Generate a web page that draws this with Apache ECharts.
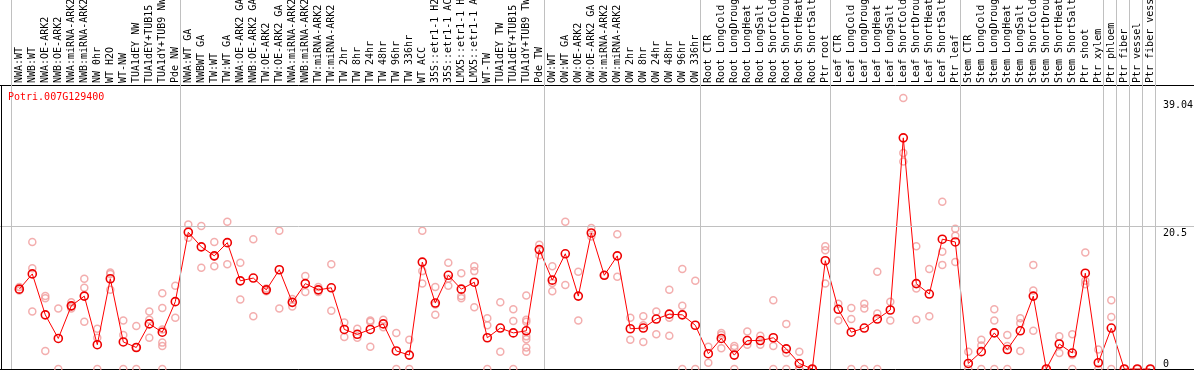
<!DOCTYPE html>
<html>
<head>
<meta charset="utf-8">
<script src="https://cdn.jsdelivr.net/npm/echarts@6/dist/echarts.min.js"></script>
<style>
html,body{margin:0;padding:0;background:#fff;}
#chart{width:1194px;height:370px;}
</style>
</head>
<body>
<div id="chart"></div>
<script>
// ---- data ----
const titleText = 'Potri.007G129400';
const categories = [
  'NWA:WT','NWB:WT','NWA:OE-ARK2','NWB:OE-ARK2','NWA:miRNA-ARK2','NWB:miRNA-ARK2','NW 0hr','WT H2O','WT-NW','TUA1dEY NW','TUA1dEY+TUB15 NW','TUA1dY+TUB9 NW','Pde NW',
  'NWA:WT GA','NWBWT GA','TW:WT','TW:WT GA','NWA:OE-ARK2 GA','NWB:OE-ARK2 GA','TW:OE-ARK2','TW:OE-ARK2 GA','NWA:miRNA-ARK2 GA','NWB:miRNA-ARK2 GA','TW:miRNA-ARK2','TW:miRNA-ARK2 GA','TW 2hr','TW 8hr','TW 24hr','TW 48hr','TW 96hr','TW 336hr','WT ACC','35S::etr1-1 H2O','35S::etr1-1 ACC','LMX5::etr1-1 H2O','LMX5::etr1-1 ACC','WT-TW','TUA1dEY TW','TUA1dEY+TUB15 TW','TUA1dY+TUB9 TW','Pde TW',
  'OW:WT','OW:WT GA','OW:OE-ARK2','OW:OE-ARK2 GA','OW:miRNA-ARK2','OW:miRNA-ARK2 GA','OW 2hr','OW 8hr','OW 24hr','OW 48hr','OW 96hr','OW 336hr',
  'Root CTR','Root LongCold','Root LongDrought','Root LongHeat','Root LongSalt','Root ShortCold','Root ShortDrought','Root ShortHeat','Root ShortSalt','Ptr root',
  'Leaf CTR','Leaf LongCold','Leaf LongDrought','Leaf LongHeat','Leaf LongSalt','Leaf ShortCold','Leaf ShortDrought','Leaf ShortHeat','Leaf ShortSalt','Ptr leaf',
  'Stem CTR','Stem LongCold','Stem LongDrought','Stem LongHeat','Stem LongSalt','Stem ShortCold','Stem ShortDrought','Stem ShortHeat','Stem ShortSalt','Ptr shoot',
  'Ptr xylem','Ptr phloem','Ptr fiber','Ptr vessel','Ptr fiber vessel'
];
// group boundaries (index of first category of each group, plus end)
const groupStarts = [0, 13, 41, 53, 63, 73, 84, 85, 86, 87, 88];
const meanValues = [
  11.5,13.7,7.8,4.4,9.1,10.5,3.5,13.0,3.9,3.1,6.5,5.3,9.7,
  19.7,17.6,16.3,18.2,12.7,13.1,11.4,14.3,9.6,12.3,11.4,11.7,5.7,5.0,5.7,6.5,2.6,2.0,15.4,9.5,13.5,11.5,12.5,4.5,5.9,5.2,5.5,17.2,
  12.8,16.6,10.5,19.6,13.5,16.3,5.8,5.9,7.2,7.9,7.8,6.3,
  2.2,4.4,2.0,4.1,4.1,4.5,2.9,0.8,0,15.6,
  8.6,5.3,5.9,7.2,8.5,33.3,12.3,10.8,18.7,18.3,
  0.8,2.5,5.2,2.8,5.5,10.5,0,3.6,2.3,13.8,
  0.9,5.9,0,0,0
];
const replicateValues = [
  [11.8,11.3],[18.3,14.5,8.3],[10.5,10.2,2.6],[8.7,0],[9.6,9.0,8.7],[13.0,11.7,6.8],[5.8,4.5,0],[13.9,13.7,11.4],[7.0,4.9,0],[6.2,3.1,0],[8.3,7.1,4.5],[10.9,8.8,5.7,3.8,3.3,0],[12.0,7.4],
  [20.8,18.9],[20.6,14.6],[18.3,16.2,14.8],[21.2,15.1],[15.3,10.0],[18.7,7.6],[11.6,11.2],[19.9,8.7],[10.1,9.0],[13.4,11.1],[11.8,11.1],[15.1,8.4],[6.7,4.6],[5.8,4.5],[7.0,6.8,3.2],[7.1,6.0],[5.2,0],[4.2,0],[19.9,14.1,12.3],[11.8,9.3,7.8],[15.3,13.0,12.0],[13.8,10.5,10.2],[14.8,14.1,8.9],[7.3,6.3,0],[9.6,2.5],[8.6,6.9,0],[10.6,7.1,6.8,4.7,4.3,3.1,2.5],[17.9,16.4],
  [14.8,12.4,11.2],[21.2,12.1],[14.0,7.0],[20.3,19.1],[13.5],[19.4,13.3],[7.4,4.2],[7.6,6.3,3.9],[8.3,5.0],[11.4,7.4,4.8],[14.4,9.1,0],[12.7,0],
  [3.2,0.9],[5.2,4.9,3.0],[3.3,3.0,0],[5.4,3.5],[4.8,3.5],[9.9,3.3,0],[6.5,2.3,0],[2.5,0,0],[0,0],[17.7,17.1,12.3],
  [9.4,7.0],[8.8,7.2,0],[9.4,8.7,0],[14.0,8.0,0],[9.7,7.0],[39.04,31.1,29.9],[17.7,11.6,7.1],[14.4,7.6],[24.1,16.9,15.0],[20.2,19.2,15.4],
  [2.5,0],[4.2,3.4,0],[8.6,7.0,0],[4.9,3.3,0],[7.3,6.6,2.6],[15.0,11.3,5.5],[0],[4.7,2.3],[5.0,2.0,0],[16.8,12.7,12.2],
  [2.8,0],[9.9,7.5,0],[0],[0],[0]
];
const yTickLabels = [0, 20.5, 39.04];
const gridLineValues = [20.5];

// ---- layout constants ----
const PX_PER_CAT = 13.0;
const FIRST_X = 19.3;         // px of first category centre
const W = 1194, ZERO_Y = 369; // px
const PX_PER_UNIT = 271 / 39.04;
const XMIN = -FIRST_X / PX_PER_CAT;
const XMAX = XMIN + W / PX_PER_CAT;
const YMAX = ZERO_Y / PX_PER_UNIT;
const Y_AT_HEADER = (ZERO_Y - 85) / PX_PER_UNIT;
const BOUNDARY_SHIFT = 0.62;

const mono = 'DejaVu Sans Mono';

const repData = [];
replicateValues.forEach((arr, i) => arr.forEach(v => repData.push([i, v])));
const meanData = meanValues.map((v, i) => [i, v]);

const chart = echarts.init(document.getElementById('chart'), null, {renderer: 'canvas'});
chart.setOption({
  animation: false,
  backgroundColor: '#ffffff',
  title: {
    text: titleText, left: 8, top: 92, padding: 0,
    textStyle: {color: '#ff0000', fontFamily: mono, fontSize: 10, fontWeight: 'normal'}
  },
  grid: {left: 0, right: 0, top: 0, bottom: 370 - ZERO_Y, containLabel: false, outerBoundsMode: 'none'},
  xAxis: [
    {
      type: 'value', min: XMIN, max: XMAX, position: 'top', offset: -85,
      axisLine: {show: true, onZero: false, lineStyle: {color: '#000', width: 1}},
      axisTick: {show: false},
      splitLine: {show: false},
      axisLabel: {
        customValues: categories.map((c, i) => i),
        formatter: v => categories[Math.round(v)] || '',
        rotate: -90, margin: 2, color: '#000', fontFamily: mono, fontSize: 10
      }
    },
    {
      type: 'value', min: XMIN, max: XMAX, position: 'bottom',
      axisLine: {show: true, onZero: false, lineStyle: {color: '#000', width: 1}},
      axisTick: {show: false}, axisLabel: {show: false}, splitLine: {show: false}
    }
  ],
  yAxis: [
    {
      type: 'value', min: 0, max: YMAX, position: 'right',
      axisLine: {show: false, onZero: false}, axisTick: {show: false}, splitLine: {show: false},
      axisLabel: {
        inside: true, customValues: yTickLabels.filter(v => v > 0),
        formatter: v => String(v), align: 'left', verticalAlign: 'top', margin: 31,
        color: '#000', fontFamily: mono, fontSize: 10, padding: [2, 0, 0, 0]
      }
    },
    {
      type: 'value', min: 0, max: YMAX, position: 'right',
      axisLine: {show: false, onZero: false}, axisTick: {show: false}, splitLine: {show: false},
      axisLabel: {
        inside: true, customValues: yTickLabels.filter(v => v === 0),
        formatter: v => String(v), align: 'left', verticalAlign: 'bottom', margin: 31,
        color: '#000', fontFamily: mono, fontSize: 10
      }
    }
  ],
  series: [
    {
      type: 'scatter', name: 'replicates', xAxisIndex: 0, yAxisIndex: 0,
      data: repData, symbol: 'circle', symbolSize: 7, clip: false, z: 3,
      itemStyle: {color: 'rgba(255,255,255,0)', borderColor: '#f09a9a', borderWidth: 1.5},
      markLine: {
        silent: true, symbol: ['none', 'none'], label: {show: false}, animation: false,
        lineStyle: {color: '#c0c0c0', width: 1, type: 'solid'},
        data: groupStarts.map(k => ({xAxis: k - BOUNDARY_SHIFT}))
          .concat(gridLineValues.map(v => ({yAxis: v})))
      }
    },
    {
      type: 'line', name: 'mean', xAxisIndex: 0, yAxisIndex: 0,
      data: meanData, symbol: 'circle', symbolSize: 8, clip: false, z: 4,
      lineStyle: {color: '#ff0000', width: 1},
      itemStyle: {color: 'rgba(255,255,255,0)', borderColor: '#ee0000', borderWidth: 1.6},
      markLine: {
        silent: true, symbol: ['none', 'none'], label: {show: false}, animation: false,
        lineStyle: {color: '#000', width: 1, type: 'solid'},
        data: [[{coord: [XMIN + 1 / PX_PER_CAT, 0]}, {coord: [XMIN + 1 / PX_PER_CAT, Y_AT_HEADER]}]]
      }
    }
  ]
});
</script>
</body>
</html>
